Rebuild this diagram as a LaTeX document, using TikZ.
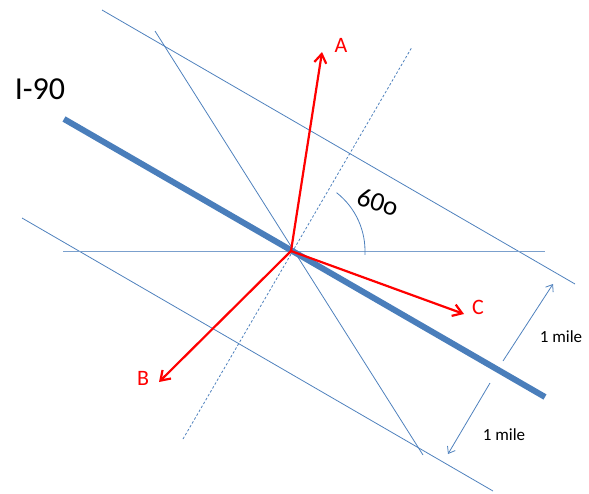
\documentclass[tikz,border=0pt]{standalone}
\usepackage{fontspec}
\setmainfont{Carlito}
\usetikzlibrary{arrows.meta}
\definecolor{thinblue}{HTML}{4F81BD}
\definecolor{thickblue}{HTML}{4A7EBB}
\tikzset{
  thin line/.style={draw=thinblue, line width=0.8pt},
  road/.style={draw=thickblue, line width=6pt},
  vec/.style={draw=red, line width=2.2pt, -{Straight Barb[length=9pt,width=12pt,line width=2.2pt]}},
  dim/.style={draw=thinblue, line width=0.8pt, -{Straight Barb[length=6pt,width=9pt]}},
  veclabel/.style={text=red, font=\fontsize{22}{24}\selectfont, inner sep=0pt},
  dimlabel/.style={font=\fontsize{17}{19}\selectfont, inner sep=0pt}
}
\begin{document}
\begin{tikzpicture}[x=1pt,y=-1pt]
\useasboundingbox (0,0) rectangle (589,493);
% reference lines
\coordinate (O) at (291,251);
\coordinate (u1) at (102,10);  \coordinate (u2) at (575,284);
\coordinate (l1) at (22,218);  \coordinate (l2) at (493,491);
\coordinate (s1) at (155,31);  \coordinate (s2) at (423,455);
\coordinate (h1) at (63,251);  \coordinate (h2) at (545,251);
\coordinate (d1) at (183,439); \coordinate (d2) at (412,47);
\path[thin line] (u1) -- (u2);
\path[thin line] (l1) -- (l2);
\path[thin line] (s1) -- (s2);
\path[thin line, draw=thinblue!75] (h1) -- (h2);
\path[thin line, dash pattern=on 2.5pt off 2pt] (d1) -- (d2);
% road
\coordinate (r1) at (64,119); \coordinate (r2) at (545,397);
\path[road] (r1) -- (r2);
% angle arc
\draw[thin line] ([shift={(3:74)}]O) arc[start angle=3, end angle=-52, radius=74];
\node[rotate=-18, font=\fontsize{27}{29}\selectfont, inner sep=0pt] (ang) at (378,202) {60o};
% vectors
\coordinate (A) at (322,52);
\coordinate (B) at (159,382);
\coordinate (C) at (464,314);
\path[vec] (O) -- (A);
\path[vec] (O) -- (B);
\path[vec] (O) -- (C);
\node[veclabel] (Al) at (341,45) {A};
\node[veclabel] (Bl) at (143,378) {B};
\node[veclabel] (Cl) at (478,307) {C};
% I-90 label
\node[font=\fontsize{32}{34}\selectfont, inner sep=0pt] (road label) at (40,89) {I-90};
% dimension arrows
\coordinate (m1) at (503,361); \coordinate (m2) at (553,284);
\coordinate (n1) at (490,383); \coordinate (n2) at (448,454);
\path[dim] (m1) -- (m2);
\path[dim] (n1) -- (n2);
\node[dimlabel] (mile1) at (561,337) {1 mile};
\node[dimlabel] (mile2) at (504,435) {1 mile};
\end{tikzpicture}
\end{document}
